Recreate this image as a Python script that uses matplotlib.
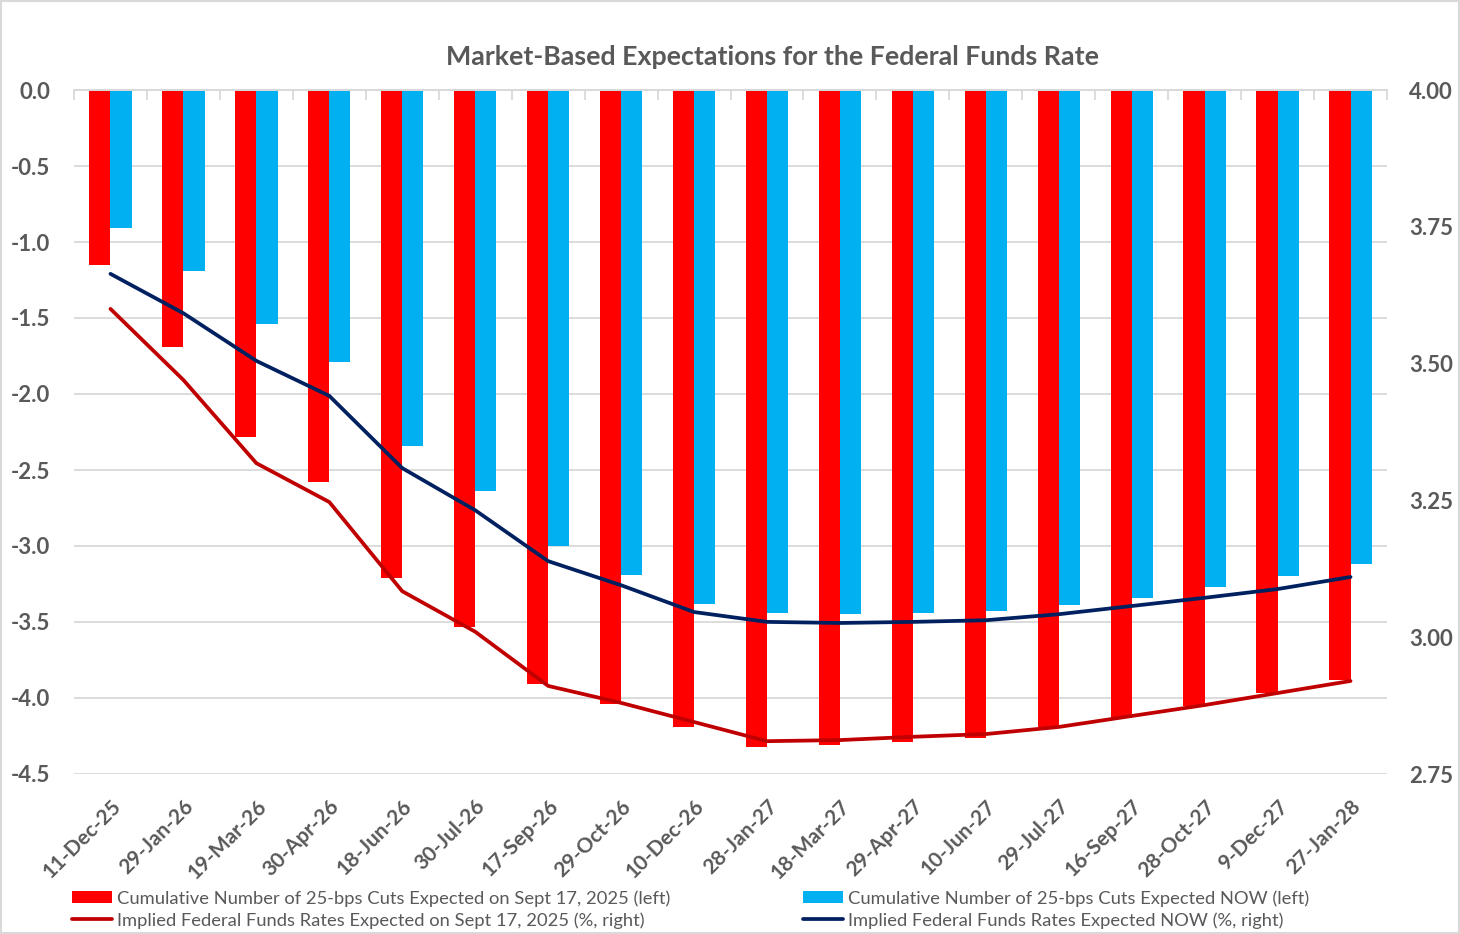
import numpy as np
import matplotlib
matplotlib.use("Agg")
import matplotlib.pyplot as plt
from matplotlib.patches import Rectangle

plt.rcParams['font.family'] = ['Lato', 'DejaVu Sans']

# meeting dates (x axis)
dates = ['11-Dec-25', '29-Jan-26', '19-Mar-26', '30-Apr-26', '18-Jun-26', '30-Jul-26',
         '17-Sep-26', '29-Oct-26', '10-Dec-26', '28-Jan-27', '18-Mar-27', '29-Apr-27',
         '10-Jun-27', '29-Jul-27', '16-Sep-27', '28-Oct-27', '9-Dec-27', '27-Jan-28']

# cumulative 25-bp cuts (left axis)
cuts_sept17 = [-1.15, -1.69, -2.28, -2.58, -3.21, -3.53, -3.91, -4.04, -4.19,
               -4.32, -4.31, -4.29, -4.26, -4.20, -4.13, -4.05, -3.97, -3.88]
cuts_now = [-0.91, -1.19, -1.54, -1.79, -2.34, -2.64, -3.00, -3.19, -3.38,
            -3.44, -3.45, -3.44, -3.43, -3.39, -3.34, -3.27, -3.20, -3.12]

# implied fed funds rate (right axis, %)
rate_sept17 = [3.600, 3.470, 3.318, 3.247, 3.084, 3.010, 2.911, 2.880, 2.845,
               2.810, 2.812, 2.818, 2.823, 2.836, 2.856, 2.876, 2.898, 2.920]
rate_now = [3.664, 3.592, 3.505, 3.441, 3.309, 3.232, 3.139, 3.095, 3.046,
            3.028, 3.026, 3.028, 3.031, 3.042, 3.057, 3.072, 3.088, 3.110]

grey = '#595959'
grid = '#D9D9D9'

fig = plt.figure(figsize=(14.6, 9.34), dpi=100)
ax = fig.add_axes([74/1460, 1-774/934, (1387-74)/1460, (774-90)/934])
ax2 = ax.twinx()

x = np.arange(len(dates))
w = 0.29
b1 = ax.bar(x - w/2, cuts_sept17, width=w, color='#FF0000', zorder=2)
b2 = ax.bar(x + w/2, cuts_now, width=w, color='#00B0F0', zorder=2)

l1, = ax2.plot(x, rate_sept17, color='#C00000', lw=2.7, solid_capstyle='round')
l2, = ax2.plot(x, rate_now, color='#002060', lw=2.7, solid_capstyle='round')

ax.set_xlim(-0.5, len(dates) - 0.5)
ax.set_ylim(-4.5, 0)
ax.set_yticks(np.arange(-4.5, 0.01, 0.5))
ax.set_yticklabels(['%.1f' % v for v in np.arange(-4.5, 0.01, 0.5)])
ax2.set_ylim(2.75, 4.0)
ax2.set_yticks([2.75, 3.0, 3.25, 3.5, 3.75, 4.0])
ax2.set_yticklabels(['2.75', '3.00', '3.25', '3.50', '3.75', '4.00'])

ax.grid(axis='y', color=grid, lw=1.3, zorder=0)
ax.set_axisbelow(True)
for a in (ax, ax2):
    for s in ['left', 'right', 'bottom']:
        a.spines[s].set_visible(False)
    a.spines['top'].set_color(grid)
    a.spines['top'].set_linewidth(1.3)

ax.set_xticks(x)
ax.set_xticklabels(dates, rotation=45, ha='right', va='top', rotation_mode='anchor',
                   fontsize=15, fontweight='bold', color=grey)
ax.tick_params(axis='x', length=0, pad=16)
ax.tick_params(axis='y', length=0, pad=17, labelsize=16, labelcolor=grey)
ax2.tick_params(axis='y', length=0, pad=16, labelsize=16, labelcolor=grey)
for t in ax.get_yticklabels() + ax2.get_yticklabels():
    t.set_fontweight('bold')

# category boundary ticks on the zero line
top = ax.secondary_xaxis('top')
top.set_xticks(np.arange(-0.5, len(dates), 1.0))
top.tick_params(direction='in', length=7, color=grid, width=1.3, labeltop=False)
top.spines['top'].set_visible(False)

fig.text(773/1460, 1-57/934, 'Market-Based Expectations for the Federal Funds Rate',
         ha='center', va='center', fontsize=19.3, fontweight='bold', color=grey)

fig.legend([b1, l1, b2, l2],
           ['Cumulative Number of 25-bps Cuts Expected on Sept 17, 2025 (left)',
            'Implied Federal Funds Rates Expected on Sept 17, 2025 (%, right)',
            'Cumulative Number of 25-bps Cuts Expected NOW (left)',
            'Implied Federal Funds Rates Expected NOW (%, right)'],
           ncol=2, loc='upper left', bbox_to_anchor=(72/1460, 1-890/934),
           frameon=False, borderpad=0, borderaxespad=0, fontsize=13.2,
           handlelength=2.18, handleheight=0.6, handletextpad=0.28,
           labelspacing=0.3, columnspacing=7.25, labelcolor=grey)

fig.patches.append(Rectangle((0.001, 0.001), 0.998, 0.998, transform=fig.transFigure,
                             fill=False, edgecolor=grid, lw=1.5))

fig.savefig('out.png', dpi=100)
